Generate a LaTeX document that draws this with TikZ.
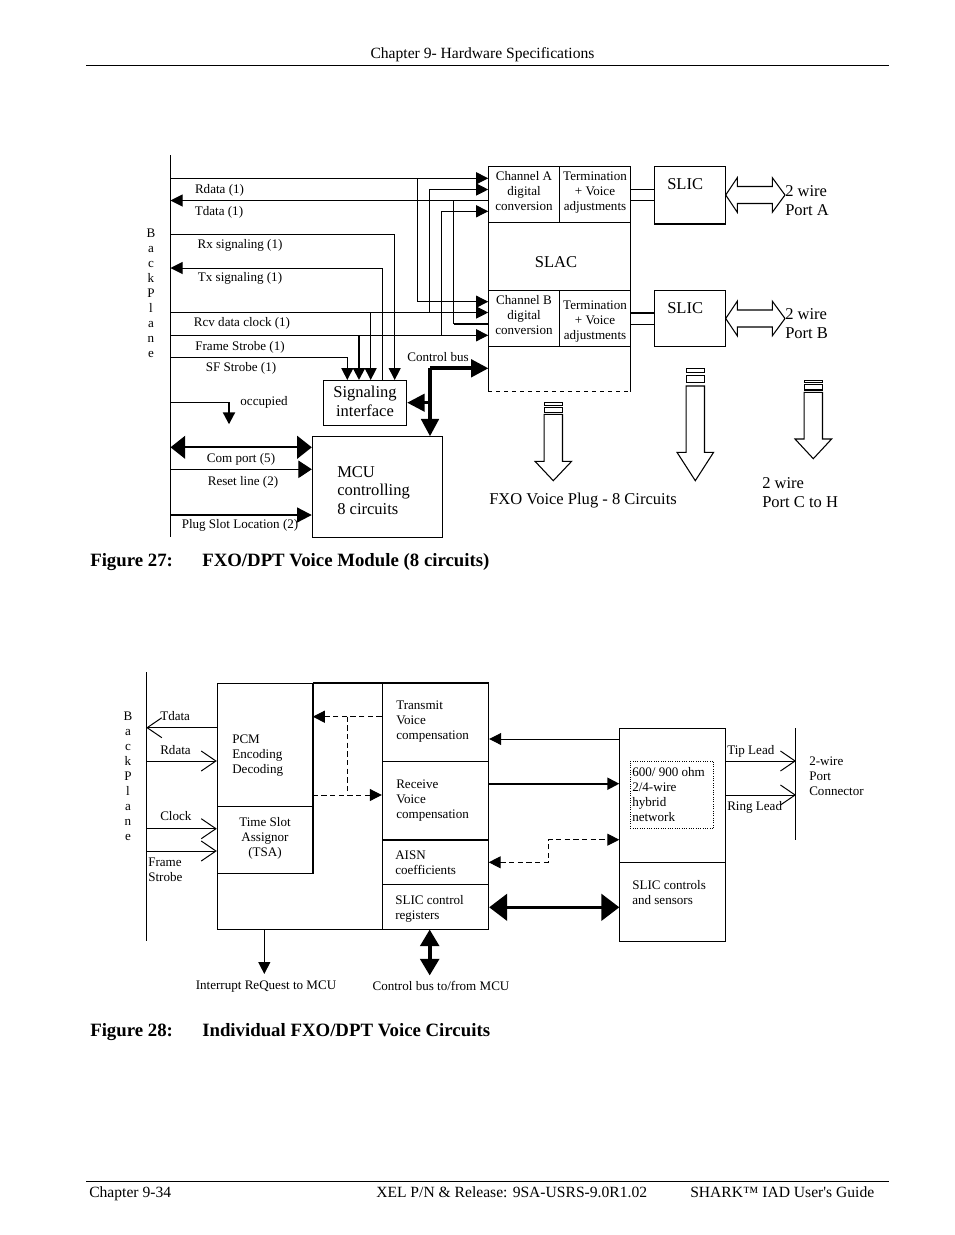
\documentclass[tikz,border=0pt]{standalone}
\usepackage{fontspec}
\setmainfont{Liberation Serif}
\usetikzlibrary{arrows.meta}

\tikzset{
  blk/.style={draw=black, line width=0.75pt, inner sep=0pt},
  boxsize/.style 2 args={minimum width=#1*0.75pt, minimum height=#2*0.75pt},
  lbl/.style={inner sep=0pt, font=\fontsize{9.8}{11.25}\selectfont},
  biglbl/.style={inner sep=0pt, font=\fontsize{12.4}{14.1}\selectfont},
  pagelbl/.style={inner sep=0pt, font=\fontsize{11.7}{13}\selectfont, anchor=base west},
  caplbl/.style={inner sep=0pt, font=\fontsize{14.1}{16}\selectfont\bfseries, anchor=base west},
  wire/.style={line width=0.75pt},
  heavy/.style={line width=1.6pt},
  bus/.style={line width=2.8pt},
  arr/.style={wire, -{Triangle[length=9pt,width=9pt]}},
  midarr/.style={wire, -{Triangle[length=10pt,width=13pt]}},
  heavyarr/.style={heavy, -{Triangle[length=9pt,width=9pt]}},
  dasharr/.style={wire, dashed, dash pattern=on 4pt off 2.5pt, -{Triangle[length=9pt,width=9pt]}},
  openarr/.style={wire, -{Straight Barb[length=11pt,width=15pt]}},
  hollow/.style={draw=black, line width=0.8pt, fill=white, line join=miter},
}

\begin{document}
\begin{tikzpicture}[x=0.75pt, y=-0.75pt]
  \useasboundingbox (0,0) rectangle (954,1235);

  % page furniture
  \node (header) at (482.5,58) [inner sep=0pt, font=\fontsize{11.7}{13}\selectfont, anchor=base] {Chapter 9- Hardware Specifications};
  \coordinate (topL) at (86,65);
  \coordinate (topR) at (889,65);
  \draw[wire] (topL) -- (topR);
  \coordinate (botL) at (86,1181);
  \coordinate (botR) at (889,1181);
  \draw[wire] (botL) -- (botR);
  \node (footA) at (89,1197) [pagelbl] {Chapter 9-34};
  \node (footB) at (376,1197) [pagelbl] {XEL P/N \& Release: 9SA-USRS-9.0R1.02};
  \node (footC) at (690,1197) [pagelbl] {SHARK™ IAD User\textquotesingle s Guide};
  \node (capA) at (90,566) [caplbl] {Figure 27:};
  \node (capAtext) at (202,566) [caplbl] {FXO/DPT Voice Module (8 circuits)};
  \node (capB) at (90,1036) [caplbl] {Figure 28:};
  \node (capBtext) at (202,1036) [caplbl] {Individual FXO/DPT Voice Circuits};

  % Figure 27 boxes
  \node (chanA) at (524,194.5) [blk, boxsize={70.6}{55.6}] {};
  \node (termA) at (595,194.5) [blk, boxsize={71.4}{55.6}] {};
  \node (chanB) at (524,318.3) [blk, boxsize={70.6}{56}] {};
  \node (termB) at (595,318.3) [blk, boxsize={71.4}{56}] {};
  \node (slac) at (559.7,279) [inner sep=0pt, boxsize={142}{224.6}] {};
  \draw[wire] (slac.south west) -- (slac.north west) -- (slac.north east) -- (slac.south east);
  \draw[wire, dashed] (slac.south west) -- (slac.south east);
  \node (slicA) at (690,195) [blk, boxsize={71.4}{56.3}] {};
  \node (slicB) at (690,318.3) [blk, boxsize={71.4}{56}] {};
  \node (sigbox) at (365.2,402.9) [blk, boxsize={83}{45.7}] {};
  \node (mcu) at (377.5,486.8) [blk, boxsize={130.4}{101}] {};
  \draw[heavy] (slicA.south west) -- (slicA.south east);

  % Figure 27 backplane
  \coordinate (bpTop) at (170.5,155);
  \coordinate (bpEnd) at (170.5,537);
  \draw[wire] (bpTop) -- (bpEnd);
  \coordinate (bpRdata) at (170.5,178.3);
  \coordinate (bpTdata) at (170.5,200.5);
  \coordinate (bpRx) at (170.5,234.3);
  \coordinate (bpTx) at (170.5,268);
  \coordinate (bpClk) at (170.5,312.5);
  \coordinate (bpFrame) at (170.5,335.3);
  \coordinate (bpSF) at (170.5,357.3);
  \coordinate (bpOcc) at (170.5,402.3);
  \coordinate (bpCom) at (170.5,447.3);
  \coordinate (bpReset) at (170.5,469.3);
  \coordinate (bpPlug) at (170.5,515);

  % data lines into the SLAC
  \coordinate (rdTurnA) at (417.5,178.3);
  \coordinate (rdInB) at (417.5,301.7);
  \coordinate (clkInA) at (429,189.5);
  \coordinate (clkTurnB) at (429,312.5);
  \coordinate (tdTurnA) at (453.7,200.5);
  \coordinate (tdInB) at (453.7,323.7);
  \coordinate (fsInA) at (441.3,211.3);
  \coordinate (fsTurnB) at (441.3,335.3);
  \draw[arr] (bpRdata) -- (bpRdata -| chanA.west);
  \draw[arr] (rdTurnA) -- (rdInB) -- (rdInB -| chanB.west);
  \draw[arr] (clkTurnB) -- (clkInA) -- (clkInA -| chanA.west);
  \draw[arr] (tdTurnA -| chanA.west) -- (bpTdata);
  \draw[wire] (tdTurnA) -- (tdInB);
  \draw[heavy] (tdInB) -- (tdInB -| chanB.west);
  \draw[arr] (fsTurnB) -- (fsInA) -- (fsInA -| chanA.west);
  \draw[arr] (bpClk) -- (bpClk -| chanB.west);
  \draw[arr] (bpFrame) -- (bpFrame -| chanB.west);

  % signaling interface
  \coordinate (sigSF) at (347.3,380);
  \coordinate (sigFrame) at (359,380);
  \coordinate (sigClk) at (370.7,380);
  \coordinate (sigTx) at (382.7,380);
  \coordinate (sigRx) at (394.7,380);
  \draw[arr] (bpSF) -| (sigSF);
  \draw[heavyarr] (bpFrame -| sigFrame) -- (sigFrame);
  \draw[arr] (bpClk -| sigClk) -- (sigClk);
  \draw[arr] (sigTx) |- (bpTx);
  \draw[arr] (bpRx) -| (sigRx);

  % control bus
  \coordinate (busTurn) at (430,368.3);
  \coordinate (mcuIn) at (430,436.3);
  \coordinate (busTap) at (430,402.7);
  \draw[bus, -{Triangle[length=13pt,width=13pt]}] (busTurn) -- (busTurn -| slac.west);
  \draw[bus, -{Triangle[length=13pt,width=13pt]}] (busTurn) -- (mcuIn);
  \draw[line width=2.2pt, -{Triangle[length=13pt,width=13pt]}] (busTap) -- (busTap -| sigbox.east);

  % left hand lines to the MCU
  \coordinate (occTurn) at (229,402.3);
  \coordinate (occEnd) at (229,424.3);
  \draw[wire] (bpOcc) -- (occTurn);
  \draw[heavyarr] (occTurn) -- (occEnd);
  \draw[heavy, {Triangle[length=11pt,width=17pt]}-{Triangle[length=11pt,width=17pt]}] (bpCom) -- (bpCom -| mcu.west);
  \draw[midarr] (bpReset) -- (bpReset -| mcu.west);
  \draw[heavy, -{Triangle[length=11pt,width=11pt]}] (bpPlug) -- (bpPlug -| mcu.west);

  % SLIC links
  \coordinate (linkA1) at (630.7,189.3);
  \coordinate (linkA2) at (630.7,200);
  \coordinate (linkB1) at (630.7,312.7);
  \coordinate (linkB2) at (630.7,324.3);
  \draw[wire] (linkA1) -- (linkA1 -| slicA.west);
  \draw[wire] (linkA2) -- (linkA2 -| slicA.west);
  \draw[heavy] (linkB1) -- (linkB1 -| slicB.west);
  \draw[wire] (linkB2) -- (linkB2 -| slicB.west);

  % hollow wire arrows
  \foreach \cy in {195,318.5} {
    \draw[hollow] (725.7,\cy) -- (737.3,\cy-17.3) -- (737.3,\cy-8.5) -- (772.3,\cy-8.5) -- (772.3,\cy-17.3) -- (785,\cy)
      -- (772.3,\cy+17.3) -- (772.3,\cy+8.5) -- (737.3,\cy+8.5) -- (737.3,\cy+17.3) -- cycle;
  }
  \foreach \cx/\ra/\rb/\rc/\rd/\st/\sh/\tp in {553.3/402.3/405.7/407.3/412.7/414.3/461.3/480.7,
      695.3/368.3/372.7/375.3/382.7/386/452.3/480.7, 813.3/380.3/382.7/384.7/390/392.3/439/458.7} {
    \draw[hollow] (\cx-9.2,\ra) rectangle (\cx+9.2,\rb);
    \draw[hollow] (\cx-9.2,\rc) rectangle (\cx+9.2,\rd);
    \draw[hollow] (\cx-9.2,\st) -- (\cx+9.2,\st) -- (\cx+9.2,\sh) -- (\cx+18.3,\sh) -- (\cx,\tp)
      -- (\cx-18.3,\sh) -- (\cx-9.2,\sh) -- cycle;
  }

  % Figure 27 labels
  \node (bpText) at (151,293.5) [lbl, align=center] {B\\a\\c\\k\\P\\l\\a\\n\\e};
  \node (rdataLbl) at (219.5,193) [lbl, anchor=base] {Rdata (1)};
  \node (tdataLbl) at (219,215) [lbl, anchor=base] {Tdata (1)};
  \node (rxLbl) at (240,248) [lbl, anchor=base] {Rx signaling (1)};
  \node (txLbl) at (240,281) [lbl, anchor=base] {Tx signaling (1)};
  \node (clkLbl) at (242,326) [lbl, anchor=base] {Rcv data clock (1)};
  \node (frameLbl) at (240,350) [lbl, anchor=base] {Frame Strobe (1)};
  \node (sfLbl) at (241,371) [lbl, anchor=base] {SF Strobe (1)};
  \node (occLbl) at (264,405) [lbl, anchor=base] {occupied};
  \node (comLbl) at (241,462) [lbl, anchor=base] {Com port (5)};
  \node (resetLbl) at (243,485) [lbl, anchor=base] {Reset line (2)};
  \node (plugLbl) at (240,528) [lbl, anchor=base] {Plug Slot Location (2)};
  \node (busLbl) at (438,361) [lbl, anchor=base] {Control bus};
  \node (chanAlbl) at (524,191) [lbl, align=center] {Channel A\\digital\\conversion};
  \node (termAlbl) at (595,193) [lbl, align=center] {Termination\\+ Voice\\adjustments};
  \node (chanBlbl) at (524,315) [lbl, align=center] {Channel B\\digital\\conversion};
  \node (termBlbl) at (595,322) [lbl, align=center] {Termination\\+ Voice\\adjustments};
  \node (slacLbl) at (556,267) [biglbl, anchor=base] {SLAC};
  \node (slicAlbl) at (667,189) [biglbl, anchor=base west] {SLIC};
  \node (slicBlbl) at (667,313) [biglbl, anchor=base west] {SLIC};
  \node (portA) at (785,200.5) [biglbl, anchor=west, align=left] {2 wire\\Port A};
  \node (portB) at (785,324) [biglbl, anchor=west, align=left] {2 wire\\Port B};
  \node (sigLbl) at (365,401.5) [biglbl, align=center] {Signaling\\interface};
  \node (mcuLbl) at (337,490.5) [biglbl, anchor=west, align=left] {MCU\\controlling\\8 circuits};
  \node (plugLbl2) at (489,504) [biglbl, anchor=base west] {FXO Voice Plug - 8 Circuits};
  \node (portC) at (762,492.5) [biglbl, anchor=west, align=left] {2 wire\\Port C to H};

  % Figure 28 boxes
  \node (voice) at (353,806.3) [blk, boxsize={271.4}{246}] {};
  \node (pcm) at (264.8,744.8) [blk, boxsize={95}{123}] {};
  \node (tsa) at (264.8,839.8) [blk, boxsize={95}{67}] {};
  \node (txcomp) at (435.5,722.3) [blk, boxsize={106.4}{78}] {};
  \node (rxcomp) at (435.5,800.5) [blk, boxsize={106.4}{78.4}] {};
  \node (aisn) at (435.5,862) [blk, boxsize={106.4}{44.6}] {};
  \node (sliccr) at (435.5,906.8) [blk, boxsize={106.4}{45}] {};
  \node (hybrid) at (672.5,795.3) [blk, boxsize={106.4}{134}] {};
  \node (sensors) at (672.5,901.8) [blk, boxsize={106.4}{79}] {};
  \node (dotbox) at (672,795) [draw=black, line width=0.75pt, densely dotted, inner sep=0pt, boxsize={83.4}{67.4}] {};
  \draw[heavy] (pcm.north east) -- (txcomp.north east);
  \draw[heavy] (pcm.north east) -- (tsa.south east);
  \draw[heavy] (rxcomp.south west) -- (rxcomp.south east);

  % Figure 28 backplane
  \coordinate (bbTop) at (146.3,672.3);
  \coordinate (bbEnd) at (146.3,940.7);
  \draw[wire] (bbTop) -- (bbEnd);
  \coordinate (bbTdata) at (146.3,727.7);
  \coordinate (bbRdata) at (146.3,761);
  \coordinate (bbClock) at (146.3,828.7);
  \coordinate (bbFrame) at (146.3,851);
  \draw[openarr] (bbTdata -| pcm.west) -- (bbTdata);
  \draw[openarr] (bbRdata) -- (bbRdata -| pcm.west);
  \draw[openarr] (bbClock) -- (bbClock -| tsa.west);
  \draw[openarr] (bbFrame) -- (bbFrame -| tsa.west);

  % dashed paths between PCM and compensation
  \coordinate (dashTx) at (347,716.7);
  \coordinate (dashRx) at (347,795);
  \draw[dasharr] (dashTx -| txcomp.west) -- (dashTx -| pcm.east);
  \draw[wire, dashed, dash pattern=on 4pt off 2.5pt] (dashTx) -- (dashRx);
  \draw[dasharr] (dashRx -| pcm.east) -- (dashRx -| rxcomp.west);

  % down arrows
  \coordinate (irqStart) at (264.3,929.3);
  \coordinate (irqEnd) at (264.3,974);
  \draw[arr] (irqStart) -- (irqEnd);
  \coordinate (cbStart) at (429.7,929.5);
  \coordinate (cbEnd) at (429.7,975.5);
  \draw[bus, {Triangle[length=12.5pt,width=14pt]}-{Triangle[length=12.5pt,width=14pt]}] (cbStart) -- (cbEnd);

  % links to the SLIC
  \coordinate (txIn) at (619.3,739);
  \coordinate (rxIn) at (619.3,783.7);
  \coordinate (aisnIn) at (619.3,839.7);
  \coordinate (aisnOut) at (488.7,862.3);
  \coordinate (aisnTurn) at (548,862.3);
  \coordinate (ctlIn) at (619.3,907.3);
  \draw[arr] (txIn) -- (txIn -| txcomp.east);
  \draw[heavyarr] (rxIn -| rxcomp.east) -- (rxIn);
  \draw[wire, dashed, dash pattern=on 4pt off 2.5pt, {Triangle[length=9pt,width=9pt]}-{Triangle[length=9pt,width=9pt]}] (aisnOut) -- (aisnTurn) |- (aisnIn);
  \draw[line width=2.2pt, {Triangle[length=13.5pt,width=20pt]}-{Triangle[length=13.5pt,width=20pt]}] (ctlIn -| sliccr.east) -- (ctlIn);

  % port side
  \coordinate (portTop) at (795.3,728.3);
  \coordinate (portEnd) at (795.3,839.7);
  \draw[wire] (portTop) -- (portEnd);
  \coordinate (tipEnd) at (796,761);
  \coordinate (ringEnd) at (796,795);
  \draw[openarr] (tipEnd -| hybrid.east) -- (tipEnd);
  \draw[openarr] (ringEnd -| hybrid.east) -- (ringEnd);

  % Figure 28 labels
  \node (bbText) at (128,776) [lbl, align=center] {B\\a\\c\\k\\P\\l\\a\\n\\e};
  \node (tdataTxt) at (160,720) [lbl, anchor=base west] {Tdata};
  \node (rdataTxt) at (160,754) [lbl, anchor=base west] {Rdata};
  \node (clockTxt) at (160,820) [lbl, anchor=base west] {Clock};
  \node (frameTxt) at (148,869.5) [lbl, anchor=west, align=left] {Frame\\Strobe};
  \node (pcmTxt) at (232,756) [lbl, anchor=west, align=left] {PCM\\Encoding\\Decoding};
  \node (tsaTxt) at (265,838) [lbl, align=center] {Time Slot\\Assignor\\(TSA)};
  \node (txTxt) at (396,722) [lbl, anchor=west, align=left] {Transmit\\Voice\\compensation};
  \node (rxTxt) at (396,801) [lbl, anchor=west, align=left] {Receive\\Voice\\compensation};
  \node (aisnTxt) at (395,862.5) [lbl, anchor=west, align=left] {AISN\\coefficients};
  \node (crTxt) at (395,908.5) [lbl, anchor=west, align=left] {SLIC control\\registers};
  \node (irqTxt) at (266,989) [lbl, anchor=base] {Interrupt ReQuest to MCU};
  \node (cbTxt) at (441,990) [lbl, anchor=base] {Control bus to/from MCU};
  \node (hybTxt) at (632,794.5) [lbl, anchor=west, align=left] {600/ 900 ohm\\2/4-wire\\hybrid\\network};
  \node (senseTxt) at (632,892.5) [lbl, anchor=west, align=left] {SLIC controls\\and sensors};
  \node (tipTxt) at (727,754) [lbl, anchor=base west] {Tip Lead};
  \node (ringTxt) at (727,810) [lbl, anchor=base west] {Ring Lead};
  \node (connTxt) at (809,776) [lbl, anchor=west, align=left] {2-wire\\Port\\Connector};
\end{tikzpicture}
\end{document}
